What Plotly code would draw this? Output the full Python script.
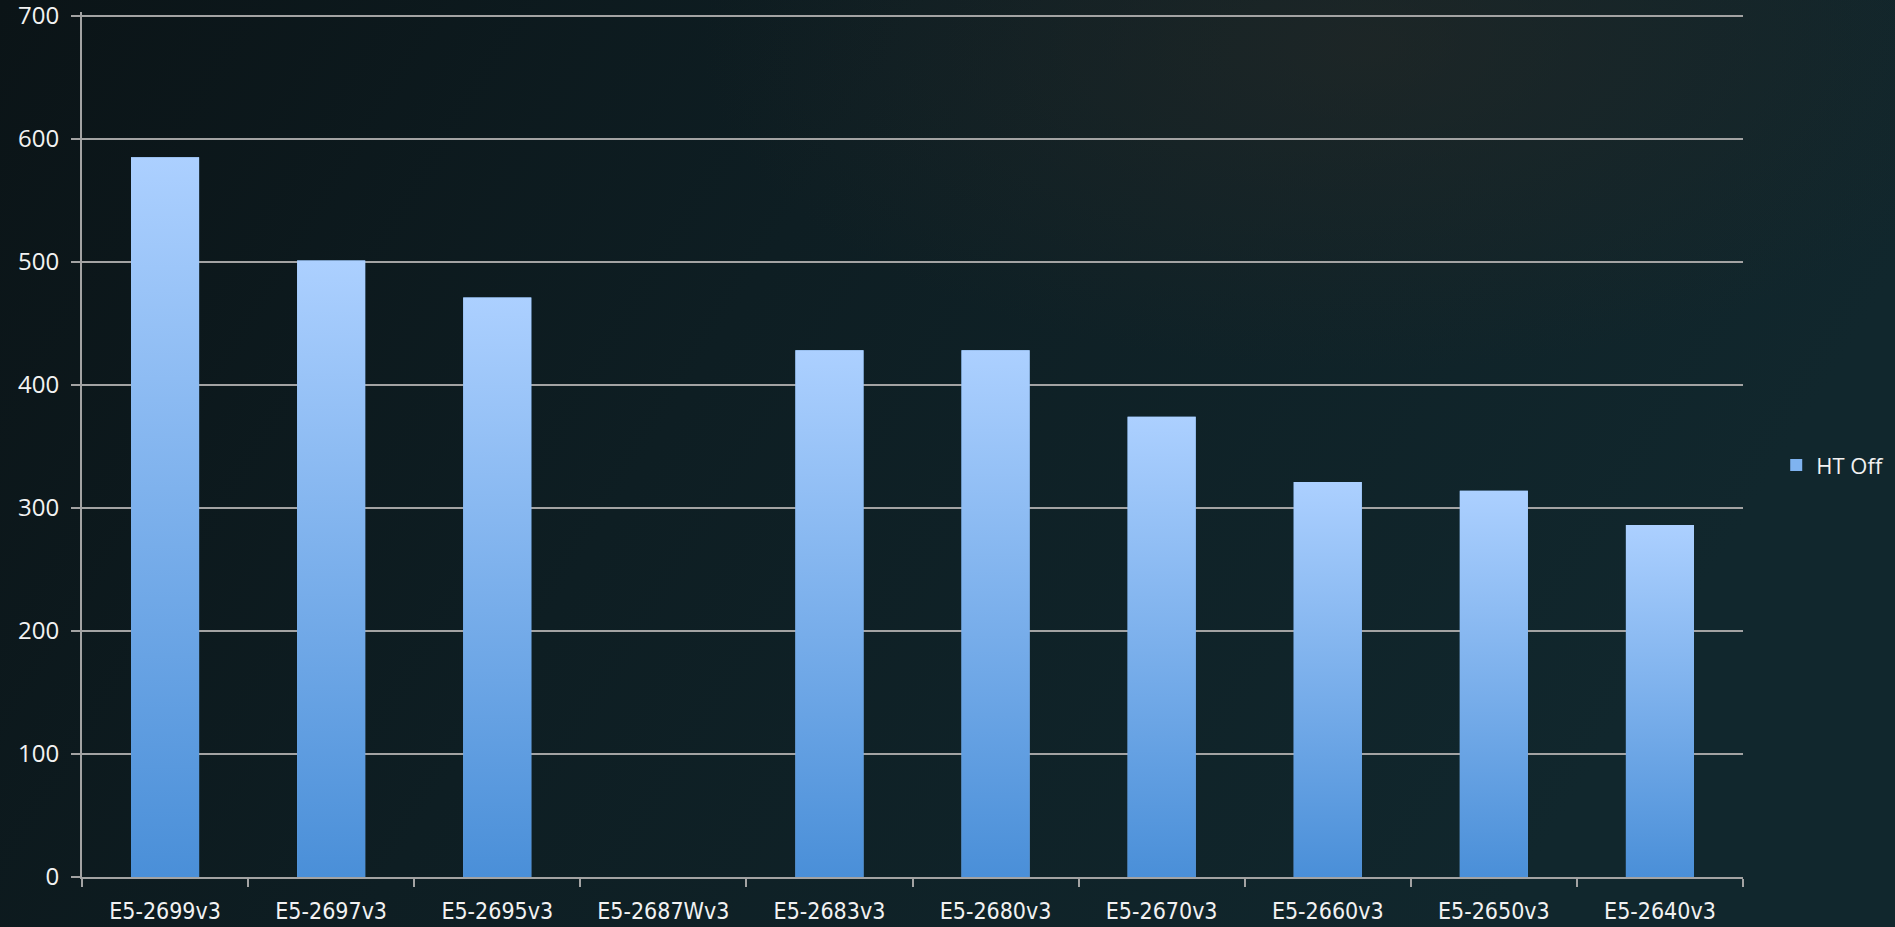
import base64
import plotly.graph_objects as go

categories = ["E5-2699v3", "E5-2697v3", "E5-2695v3", "E5-2687Wv3", "E5-2683v3",
              "E5-2680v3", "E5-2670v3", "E5-2660v3", "E5-2650v3", "E5-2640v3"]
ht_off = [585, 501, 471, None, 428, 428, 374, 321, 314, 286]
y_ticks = [0, 100, 200, 300, 400, 500, 600, 700]

positions = list(range(len(categories)))
BAR_W = 0.41
TOP_COLOR = "#acd0ff"
BOTTOM_COLOR = "#4a8fd8"
GRID = "#a3a3a3"

fig = go.Figure()

# real bar trace carrying the data
fig.add_trace(go.Bar(
    x=positions, y=ht_off, width=BAR_W, name="HT Off",
    marker=dict(color="#7fb3f0", line=dict(width=0)),
))

# vertical gradient overlay on each bar (derived from the same data)
for p, v in zip(positions, ht_off):
    if v is None:
        continue
    fig.add_trace(go.Scatter(
        x=[p - BAR_W / 2, p + BAR_W / 2, p + BAR_W / 2, p - BAR_W / 2, p - BAR_W / 2],
        y=[0, 0, v, v, 0],
        mode="lines", line=dict(width=0), fill="toself",
        fillgradient=dict(type="vertical",
                          colorscale=[[0, BOTTOM_COLOR], [1, TOP_COLOR]]),
        showlegend=False, hoverinfo="skip",
    ))

# background gradient
svg = """<svg xmlns='http://www.w3.org/2000/svg' width='1895' height='927'>
<defs>
<linearGradient id='g' x1='0' y1='0' x2='1' y2='0.3'>
<stop offset='0' stop-color='#0b1417'/>
<stop offset='0.45' stop-color='#0e1e23'/>
<stop offset='1' stop-color='#11272d'/>
</linearGradient>
<radialGradient id='r' cx='0.72' cy='0.05' r='0.35'>
<stop offset='0' stop-color='#2a2a26' stop-opacity='0.5'/>
<stop offset='1' stop-color='#2a2a26' stop-opacity='0'/>
</radialGradient>
</defs>
<rect width='1895' height='927' fill='url(#g)'/>
<rect width='1895' height='927' fill='url(#r)'/>
</svg>"""
src = "data:image/svg+xml;base64," + base64.b64encode(svg.encode()).decode()

Y_MAX = 703
L, R, T, B = 82, 152, 12.3, 50
W, H = 1895, 927
pw, ph = W - L - R, H - T - B

fig.update_layout(
    width=W, height=H,
    margin=dict(l=L, r=R, t=T, b=B, pad=0, autoexpand=False),
    paper_bgcolor="#0e1c21",
    plot_bgcolor="rgba(0,0,0,0)",
    images=[dict(source=src, xref="paper", yref="paper",
                 x=-L / pw, y=1 + T / ph, sizex=W / pw, sizey=H / ph,
                 sizing="stretch", layer="below", xanchor="left", yanchor="top")],
    showlegend=True,
    legend=dict(x=1.020, xanchor="left", y=0.476, yanchor="middle",
                font=dict(family="Open Sans", size=22, color="#f2f2f2"),
                bgcolor="rgba(0,0,0,0)", itemwidth=30),
    xaxis=dict(
        range=[-0.5, len(categories) - 0.5], automargin=False,
        tickmode="array", tickvals=positions, ticktext=categories,
        ticks="", showgrid=False, zeroline=False,
        showline=True, linecolor=GRID, linewidth=2,
        tickfont=dict(family="Liberation Sans Narrow, DejaVu Sans Condensed", size=23, color="#f2f2f2"),
        ticklabelstandoff=12,
        minor=dict(ticks="outside", tick0=-0.5, dtick=1, ticklen=8,
                   tickcolor=GRID, tickwidth=1.5, showgrid=False),
    ),
    yaxis=dict(
        range=[0, Y_MAX], automargin=False, tickmode="array", tickvals=y_ticks,
        showgrid=True, gridcolor=GRID, gridwidth=1.5, zeroline=False,
        showline=True, linecolor=GRID, linewidth=2,
        ticks="outside", ticklen=9, tickcolor=GRID, tickwidth=1.5,
        tickfont=dict(family="Open Sans", size=24, color="#f2f2f2"),
        ticklabelstandoff=7, ticklabeloverflow="allow",
    ),
    bargap=0.59,
)

fig.write_html("out.html")
